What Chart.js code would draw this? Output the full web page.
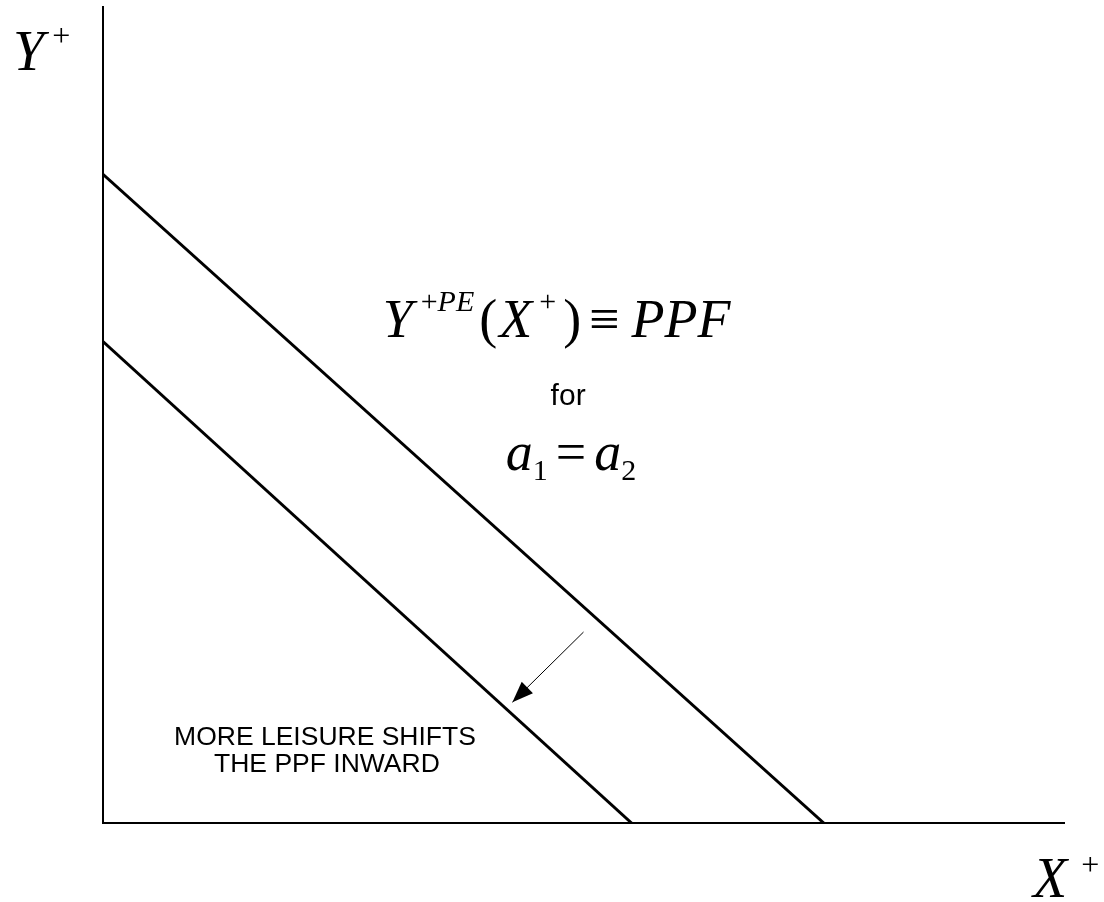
<!DOCTYPE html>
<html>
<head>
<meta charset="utf-8">
<title>PPF shift</title>
<script src="https://cdn.jsdelivr.net/npm/chart.js@4.4.1/dist/chart.umd.min.js"></script>
<style>
  html, body { margin: 0; padding: 0; background: #fff; }
  #wrap { width: 1104px; height: 902px; }
</style>
</head>
<body>
<div id="wrap"><canvas id="ppfChart" width="1104" height="902"></canvas></div>
<script>
'use strict';

// values (axis units 0..10)
var outerX = [0, 7.5];
var outerY = [7.95, 0];
var innerX = [0, 5.5];
var innerY = [5.9, 0];
var arrowX = [5.0, 4.26];
var arrowY = [2.34, 1.48];

var serif = '"Liberation Serif", "Times New Roman", serif';
var sans = '"Liberation Sans", Arial, sans-serif';

function pts(xs, ys) {
    return xs.map(function(x, i) { return {x: x, y: ys[i]}; });
}

// draws a run of text pieces (for super/subscripts), centred or left aligned
function drawRun(ctx, parts, x, y, align) {
    var total = 0;
    parts.forEach(function(p) {
        ctx.font = p.f;
        total += (p.pre || 0) + ctx.measureText(p.t).width;
    });
    var cx = align === 'center' ? x - total / 2 : x;
    ctx.textAlign = 'left';
    ctx.textBaseline = 'alphabetic';
    parts.forEach(function(p) {
        ctx.font = p.f;
        cx += p.pre || 0;
        ctx.fillText(p.t, cx, y + (p.dy || 0));
        cx += ctx.measureText(p.t).width;
    });
}

var bigI = 'italic 54px ' + serif;
var bigR = '54px ' + serif;
var supI = 'italic 30px ' + serif;
var supR = '30px ' + serif;

var labelsPlugin = {
    id: 'ppfLabels',
    afterDraw: function(chart) {
        var ctx = chart.ctx;
        var xs = chart.scales.x, ys = chart.scales.y;
        var area = chart.chartArea;
        ctx.save();
        ctx.fillStyle = '#000';

        // arrowhead at the end of the shift arrow
        var meta = chart.getDatasetMeta(2).data;
        var a = meta[0], b = meta[1];
        var ang = Math.atan2(b.y - a.y, b.x - a.x);
        var len = 21, half = 8;
        ctx.beginPath();
        ctx.moveTo(b.x, b.y);
        ctx.lineTo(b.x - len * Math.cos(ang) + half * Math.sin(ang), b.y - len * Math.sin(ang) - half * Math.cos(ang));
        ctx.lineTo(b.x - len * Math.cos(ang) - half * Math.sin(ang), b.y - len * Math.sin(ang) + half * Math.cos(ang));
        ctx.closePath();
        ctx.fill();

        // axis titles
        drawRun(ctx, [
            {t: 'Y', f: 'italic 56px ' + serif},
            {t: '+', f: '32px ' + serif, dy: -24, pre: 8}
        ], area.left - 90, 70, 'left');
        drawRun(ctx, [
            {t: 'X', f: 'italic 56px ' + serif},
            {t: '+', f: '32px ' + serif, dy: -22, pre: 14}
        ], area.right - 31, 897, 'left');

        // formula
        drawRun(ctx, [
            {t: 'Y', f: bigI},
            {t: '+', f: supR, dy: -26, pre: 8},
            {t: 'PE', f: supI, dy: -26},
            {t: '(', f: bigR, pre: 5},
            {t: 'X', f: bigI, pre: 2},
            {t: '+', f: supR, dy: -26, pre: 7},
            {t: ')', f: bigR, pre: 7},
            {t: '\u2261', f: bigR, pre: 8},
            {t: 'PPF', f: bigI, pre: 12}
        ], xs.getPixelForValue(4.72), ys.getPixelForValue(5.95), 'center');

        ctx.font = '30px ' + sans;
        ctx.textAlign = 'center';
        ctx.fillText('for', xs.getPixelForValue(4.84), ys.getPixelForValue(5.12));

        drawRun(ctx, [
            {t: 'a', f: bigI},
            {t: '1', f: '30px ' + serif, dy: 10},
            {t: '=', f: bigR, pre: 8},
            {t: 'a', f: bigI, pre: 8},
            {t: '2', f: '30px ' + serif, dy: 10}
        ], xs.getPixelForValue(4.87), ys.getPixelForValue(4.33), 'center');

        ctx.font = '26.5px ' + sans;
        ctx.textAlign = 'center';
        ctx.fillText('MORE LEISURE SHIFTS', xs.getPixelForValue(2.31), ys.getPixelForValue(0.96));
        ctx.fillText('THE PPF INWARD', xs.getPixelForValue(2.33), ys.getPixelForValue(0.62));
        ctx.restore();
    }
};

var ctx = document.getElementById('ppfChart').getContext('2d');
var chart = new Chart(ctx, {
    type: 'scatter',
    data: {
        datasets: [
            {data: pts(outerX, outerY), showLine: true, borderColor: '#000', borderWidth: 3, pointRadius: 0},
            {data: pts(innerX, innerY), showLine: true, borderColor: '#000', borderWidth: 3, pointRadius: 0},
            {data: pts(arrowX, arrowY), showLine: true, borderColor: '#000', borderWidth: 1, pointRadius: 0}
        ]
    },
    options: {
        responsive: false,
        animation: false,
        layout: {padding: {left: 103, top: 7, right: 40, bottom: 79}},
        plugins: {legend: {display: false}, tooltip: {enabled: false}},
        scales: {
            x: {
                type: 'linear', min: 0, max: 10,
                grid: {display: false, drawTicks: false},
                ticks: {display: false},
                border: {display: true, color: '#000', width: 2}
            },
            y: {
                type: 'linear', min: 0, max: 10,
                grid: {display: false, drawTicks: false},
                ticks: {display: false},
                border: {display: true, color: '#000', width: 2}
            }
        }
    },
    plugins: [labelsPlugin]
});
</script>
</body>
</html>
